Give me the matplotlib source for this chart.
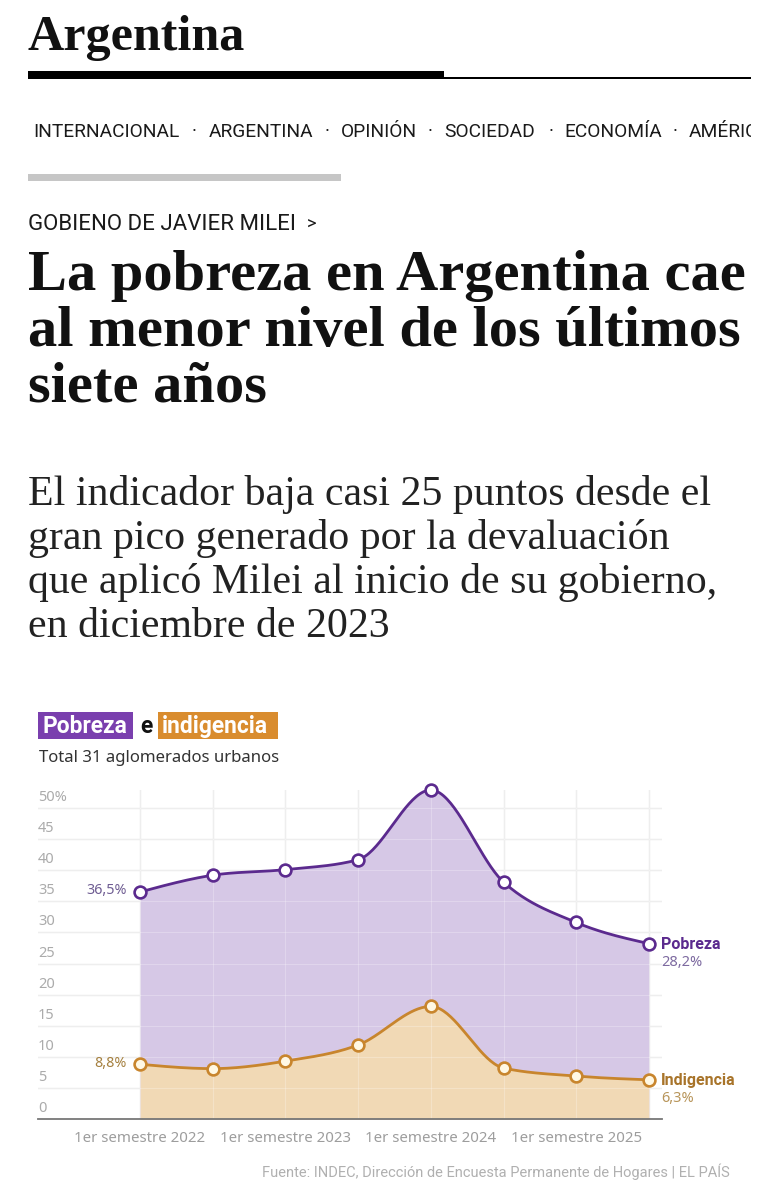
import numpy as np
import matplotlib
matplotlib.use("Agg")
import matplotlib.pyplot as plt
from matplotlib.patches import Rectangle
import matplotlib.transforms as mtransforms

# ---------------- data ----------------
periods = ["1S 2022", "2S 2022", "1S 2023", "2S 2023",
           "1S 2024", "2S 2024", "1S 2025", "2S 2025"]
pobreza = [36.5, 39.2, 40.1, 41.7, 52.9, 38.1, 31.6, 28.2]
indigencia = [8.8, 8.1, 9.3, 11.9, 18.1, 8.2, 6.9, 6.3]
tick_idx = [0, 2, 4, 6]
tick_labels = ["1er semestre 2022", "1er semestre 2023",
               "1er semestre 2024", "1er semestre 2025"]
yticks = [0, 5, 10, 15, 20, 25, 30, 35, 40, 45, 50]
ytick_labels = ["0", "5", "10", "15", "20", "25", "30", "35", "40", "45", "50%"]

nav_items = ["INTERNACIONAL", "ARGENTINA", "OPINIÓN", "SOCIEDAD", "ECONOMÍA", "AMÉRICA"]
headline = ["La pobreza en Argentina cae", "al menor nivel de los últimos", "siete años"]
subtitle = ["El indicador baja casi 25 puntos desde el",
            "gran pico generado por la devaluación",
            "que aplicó Milei al inicio de su gobierno,",
            "en diciembre de 2023"]

# ---------------- helpers ----------------
W, H = 779, 1200
fig = plt.figure(figsize=(W / 100, H / 100), dpi=100)
fig.patch.set_facecolor("white")
renderer = fig.canvas.get_renderer()


def fx(px):
    return px / W


def fy(py):
    return 1 - py / H


def fit(x, y, s, width, size=12, **kw):
    t = fig.text(fx(x), fy(y), s, fontsize=size, **kw)
    bb = t.get_window_extent(renderer)
    t.set_fontsize(size * width / bb.width)
    return t


def monotone(xs, ys, n=40):
    xs = np.asarray(xs, float)
    ys = np.asarray(ys, float)
    k = len(xs)
    h = np.diff(xs)
    s = np.diff(ys) / h
    m = np.zeros(k)
    for i in range(1, k - 1):
        p = (s[i - 1] * h[i] + s[i] * h[i - 1]) / (h[i - 1] + h[i])
        m[i] = (np.sign(s[i - 1]) + np.sign(s[i])) * min(abs(s[i - 1]), abs(s[i]), 0.5 * abs(p))
    m[0] = (3 * s[0] - m[1]) / 2
    m[-1] = (3 * s[-1] - m[-2]) / 2
    outx, outy = [], []
    for i in range(k - 1):
        t = np.linspace(0, 1, n, endpoint=(i == k - 2))
        h00 = 2 * t**3 - 3 * t**2 + 1
        h10 = t**3 - 2 * t**2 + t
        h01 = -2 * t**3 + 3 * t**2
        h11 = t**3 - t**2
        outx.append(xs[i] + t * h[i])
        outy.append(h00 * ys[i] + h10 * h[i] * m[i] + h01 * ys[i + 1] + h11 * h[i] * m[i + 1])
    return np.concatenate(outx), np.concatenate(outy)


# ---------------- page header ----------------
fit(28, 50, "Argentina", 217, size=30, family="Liberation Serif",
    weight="bold", va="baseline", ha="left", color="#111111")
fig.patches.append(Rectangle((fx(28), fy(79)), fx(444) - fx(28), 8 / H,
                             transform=fig.transFigure, color="black", lw=0))
fig.patches.append(Rectangle((fx(444), fy(79)), fx(751) - fx(444), 1.6 / H,
                             transform=fig.transFigure, color="black", lw=0))

# nav bar
nav_x = [33, 209, 341, 444, 564, 689]
t0 = fit(nav_x[0], 137, nav_items[0], 146, size=12, family="Roboto",
         va="baseline", ha="left", color="#1a1a1a")
nav_size = t0.get_fontsize()
for i, (xx, item) in enumerate(zip(nav_x[1:], nav_items[1:])):
    fig.text(fx(xx), fy(137), item, fontsize=nav_size, family="Roboto",
             va="baseline", ha="left", color="#1a1a1a")
for xx in [194, 327, 430, 551, 675]:
    fig.text(fx(xx), fy(132), "·", fontsize=nav_size, family="Roboto",
             va="center", ha="center", color="#1a1a1a")
fig.patches.append(Rectangle((fx(751), fy(150)), fx(779) - fx(751), 40 / H,
                             transform=fig.transFigure, color="white", lw=0, zorder=10))
fig.patches.append(Rectangle((fx(28), fy(181)), fx(341) - fx(28), 7 / H,
                             transform=fig.transFigure, color="#c6c6c6", lw=0))

# section label
fit(28, 230, "GOBIENO DE JAVIER MILEI", 267, size=12, family="Roboto",
    va="baseline", ha="left", color="#1a1a1a")
fig.text(fx(307), fy(230), ">", fontsize=13, family="Roboto",
         va="baseline", ha="left", color="#1a1a1a")

# headline
th = fit(28, 290, headline[0], 717, size=36, family="Liberation Serif",
         weight="bold", va="baseline", ha="left", color="#111111")
hs = th.get_fontsize()
for i, line in enumerate(headline[1:], start=1):
    fig.text(fx(28), fy(290 + 56 * i), line, fontsize=hs, family="Liberation Serif",
             weight="bold", va="baseline", ha="left", color="#111111")

# subtitle
ts = fit(28, 505, subtitle[0], 684, size=24, family="Liberation Serif",
         va="baseline", ha="left", color="#222222")
ss = ts.get_fontsize()
for i, line in enumerate(subtitle[1:], start=1):
    fig.text(fx(28), fy(505 + 44 * i), line, fontsize=ss, family="Liberation Serif",
             va="baseline", ha="left", color="#222222")

# ---------------- chart heading ----------------
purple_box = "#7a3fae"
orange_box = "#d98c2e"
fig.patches.append(Rectangle((fx(38), fy(739)), fx(133) - fx(38), 27 / H,
                             transform=fig.transFigure, color=purple_box, lw=0))
fig.patches.append(Rectangle((fx(158), fy(739)), fx(278) - fx(158), 27 / H,
                             transform=fig.transFigure, color=orange_box, lw=0))
tp = fit(42, 733, "Pobreza", 85, size=14, family="Roboto", weight="bold",
         va="baseline", ha="left", color="white")
fig.text(fx(140), fy(733), "e", fontsize=tp.get_fontsize(), family="Roboto",
         weight="bold", va="baseline", ha="left", color="#111111")
fig.text(fx(162), fy(733), "indigencia", fontsize=tp.get_fontsize(), family="Roboto",
         weight="bold", va="baseline", ha="left", color="white")
fit(39, 762, "Total 31 aglomerados urbanos", 242, size=11, family="Noto Sans",
    va="baseline", ha="left", color="#333333")

# ---------------- chart ----------------
x = np.arange(len(periods))
ax = fig.add_axes([fx(38), fy(1119), fx(662) - fx(38), (1119 - 790) / H])
ax.set_xlim(-1.403, 7.18)
ax.set_ylim(0, 52.9)
ax.set_facecolor("none")

grid_c = "#e9e9e9"
for v in yticks[1:]:
    ax.axhline(v, color=grid_c, lw=1.0, zorder=0.5)
for xi in x:
    ax.axvline(xi, color=grid_c, lw=1.0, zorder=0.5)

cpx, cpy = monotone(x, pobreza)
cix, ciy = monotone(x, indigencia)
ax.fill_between(cpx, 0, cpy, color="#d6c8e6", lw=0, zorder=1)
ax.fill_between(cix, 0, ciy, color="#f1d9b5", lw=0, zorder=1.1)
# grid visible through the fill
for v in yticks[1:]:
    ax.axhline(v, color="white", lw=0.8, alpha=0.25, zorder=1.2)
for xi in x:
    ax.axvline(xi, color="white", lw=0.8, alpha=0.25, zorder=1.2)

pur_line = "#5b2a8e"
ora_line = "#c8852d"
ax.plot(cpx, cpy, color=pur_line, lw=2.0, zorder=3, solid_capstyle="round")
ax.plot(cix, ciy, color=ora_line, lw=2.0, zorder=3, solid_capstyle="round")
ax.plot(x, pobreza, ls="none", marker="o", ms=8.5, mfc="white", mec=pur_line,
        mew=1.9, zorder=4, clip_on=False)
ax.plot(x, indigencia, ls="none", marker="o", ms=8.5, mfc="#fff8e4", mec=ora_line,
        mew=1.9, zorder=4, clip_on=False)

# y labels above gridlines
ytrans = mtransforms.blended_transform_factory(ax.transAxes, ax.transData)
ylab_trans = mtransforms.offset_copy(ytrans, fig=fig, x=0, y=3, units="dots")
for v, lab in zip(yticks, ytick_labels):
    ax.text(0.0, v, lab, transform=ylab_trans, ha="left", va="bottom",
            fontsize=10.5, color="#ababab", family="Noto Sans")

ax.set_yticks([])
ax.set_xticks(x[tick_idx])
ax.set_xticklabels(tick_labels, fontsize=10.8, color="#9d9d9d", family="Noto Sans")
ax.tick_params(axis="x", length=0, pad=8.5)
for sp in ["left", "right", "top"]:
    ax.spines[sp].set_visible(False)
ax.spines["bottom"].set_color("#777777")
ax.spines["bottom"].set_linewidth(1.3)
ax.spines["bottom"].set_zorder(5)

# direct labels
off_l = mtransforms.offset_copy(ax.transData, fig=fig, x=-13, y=1, units="dots")
ax.text(x[0], pobreza[0], f"{pobreza[0]:.1f}%".replace(".", ","), transform=off_l,
        ha="right", va="center", fontsize=10.3, color="#6e5c92", family="Noto Sans")
ax.text(x[0], indigencia[0], f"{indigencia[0]:.1f}%".replace(".", ","), transform=off_l,
        ha="right", va="center", fontsize=10.3, color="#a5803f", family="Noto Sans")

off_r1 = mtransforms.offset_copy(ax.transData, fig=fig, x=12, y=-1, units="dots")
off_r2 = mtransforms.offset_copy(ax.transData, fig=fig, x=12, y=-19, units="dots")
ax.text(x[-1], pobreza[-1], "Pobreza", transform=off_r1, ha="left", va="center",
        fontsize=11.5, weight="bold", color="#5b2a8e", family="Roboto", clip_on=False)
ax.text(x[-1], pobreza[-1], f"{pobreza[-1]:.1f}%".replace(".", ","), transform=off_r2,
        ha="left", va="center", fontsize=10.5, color="#7d6aa0", family="Noto Sans", clip_on=False)
ax.text(x[-1], indigencia[-1], "Indigencia", transform=off_r1, ha="left", va="center",
        fontsize=11.5, weight="bold", color="#a8742a", family="Roboto", clip_on=False)
ax.text(x[-1], indigencia[-1], f"{indigencia[-1]:.1f}%".replace(".", ","), transform=off_r2,
        ha="left", va="center", fontsize=10.5, color="#b8955a", family="Noto Sans", clip_on=False)

# source
fit(262, 1177, "Fuente: INDEC, Dirección de Encuesta Permanente de Hogares | EL PAÍS", 470,
    size=9, family="Roboto", va="baseline", ha="left", color="#b0b0b0")

fig.savefig("out.png", dpi=100, facecolor="white")
